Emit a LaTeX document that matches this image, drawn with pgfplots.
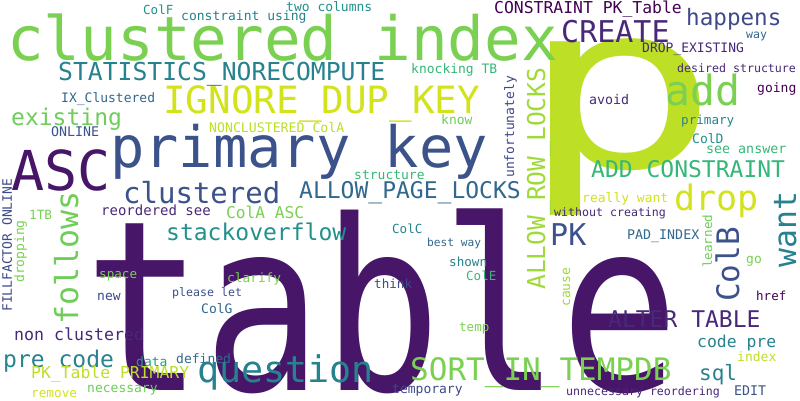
\documentclass[border=0pt]{standalone}
\usepackage{pgfplots}
\pgfplotsset{compat=1.18}
\usepackage{fontspec}
\setmainfont{DejaVu Sans Mono}
\definecolor{v0}{HTML}{440154}
\definecolor{v1}{HTML}{482878}
\definecolor{v1b}{HTML}{471669}
\definecolor{v2}{HTML}{3E4989}
\definecolor{v3}{HTML}{31688E}
\definecolor{v3b}{HTML}{3B528B}
\definecolor{v4}{HTML}{26828E}
\definecolor{v5}{HTML}{21918C}
\definecolor{v6}{HTML}{1F9E89}
\definecolor{v7}{HTML}{35B779}
\definecolor{v8}{HTML}{6ECE58}
\definecolor{v8b}{HTML}{7AD151}
\definecolor{v9}{HTML}{A0DA39}
\definecolor{v10}{HTML}{BDDF26}
\definecolor{v11}{HTML}{D2E21B}
\newcommand\W[7]{\node[anchor=base west,inner sep=0pt,text=#5,rotate=#6] at (axis cs:#1,#2) {\fontsize{#3pt}{#3pt}\selectfont #7};}
\begin{document}
\begin{tikzpicture}
\begin{axis}[width=800pt,height=400pt,scale only axis,xmin=0,xmax=800,ymin=0,ymax=400,y dir=reverse,hide axis,clip=false]
\fill[white] (rel axis cs:0,0) rectangle (rel axis cs:1,1);
\coordinate (A) at (rel axis cs:0,0);
\coordinate (B) at (rel axis cs:1,1);
\node[anchor=base west,inner sep=0pt,text=v1b,xscale=1.04,yscale=1.25] at (axis cs:84,390) {\fontsize{190pt}{190pt}\selectfont table};
\node[anchor=base west,inner sep=0pt,text=v10,xscale=1.45] at (axis cs:519,167) {\fontsize{230pt}{230pt}\selectfont p};
\W{7}{60}{61}{15}{v8b}{0}{clustered index}
\W{110}{167}{57}{11}{v3b}{0}{primary key}
\W{11}{190}{55}{3}{v1b}{0}{ASC}
\W{163}{113}{37.6}{14}{v11}{0}{IGNORE\_DUP\_KEY}
\W{58}{80}{24.7}{22}{v4}{0}{STATISTICS\_NORECOMPUTE}
\W{11}{125}{23}{8}{v8}{0}{existing}
\W{143}{14.5}{12.5}{4}{v5}{0}{ColF}
\W{286}{11}{13}{11}{v5}{0}{two columns}
\W{181}{20}{13}{16}{v4}{0}{constraint using}
\W{61}{102}{13}{12}{v3}{0}{IX\_Clustered}
\W{51}{136}{13.3}{6}{v3b}{0}{ONLINE}
\W{209}{132}{13.2}{17}{v10}{0}{NONCLUSTERED ColA}
\W{192}{131}{13}{1}{v3b}{0}{.}
\W{123}{203}{29}{9}{v3b}{0}{clustered}
\W{299}{198}{23}{16}{v3}{0}{ALLOW\_PAGE\_LOCKS}
\W{354}{179}{13}{9}{v7}{0}{structure}
\W{12}{312}{13}{17}{v2}{90}{FILLFACTOR ONLINE}
\W{494}{13}{16.4}{19}{v0}{0}{CONSTRAINT PK\_Table}
\W{686}{25}{22.6}{7}{v2}{0}{happens}
\W{561}{42}{30}{6}{v1}{0}{CREATE}
\W{746}{38}{11.6}{3}{v3}{0}{way}
\W{642}{52}{13}{13}{v1}{0}{DROP\_EXISTING}
\W{411}{73}{13}{11}{v7}{0}{knocking TB}
\W{677}{72}{11.6}{17}{v1}{0}{desired structure}
\W{665}{105}{41.5}{3}{v8b}{0}{add}
\W{757}{92}{13}{5}{v0}{0}{going}
\W{589}{104}{13.3}{5}{v1}{0}{avoid}
\W{514}{178}{13}{13}{v2}{90}{unfortunately}
\W{545}{290}{24.6}{15}{v9}{90}{ALLOW\_ROW\_LOCKS}
\W{441}{124}{13}{4}{v8}{0}{know}
\W{681}{124}{12.6}{7}{v4}{0}{primary}
\W{692}{143}{13}{4}{v5}{0}{ColD}
\W{706}{153}{13.3}{10}{v7}{0}{see answer}
\W{591}{177}{23}{14}{v7}{0}{ADD CONSTRAINT}
\W{582}{202}{13}{11}{v11}{0}{really want}
\W{674}{210}{35}{4}{v11}{0}{drop}
\W{796}{268}{31.5}{4}{v4}{90}{want}
\W{554}{216}{11.6}{16}{v1}{0}{without creating}
\W{550}{245}{30}{2}{v3b}{0}{PK}
\W{627}{239}{13.3}{9}{v3}{0}{PAD\_INDEX}
\W{712}{268}{12.6}{7}{v8}{90}{learned}
\W{739}{302}{31}{4}{v3b}{90}{ColB}
\W{746}{263}{13}{2}{v8b}{0}{go}
\W{392}{233}{12.5}{4}{v4}{0}{ColC}
\W{427}{246}{11.2}{8}{v3}{0}{best way}
\W{449}{266}{12.6}{5}{v4}{0}{shown}
\W{466}{280}{12.5}{4}{v7}{0}{ColE}
\W{374}{288}{12.6}{5}{v2}{0}{think}
\W{570}{307}{13}{5}{v9}{90}{cause}
\W{756}{300}{12.5}{4}{v0}{0}{href}
\W{608}{327}{23}{11}{v1}{0}{ALTER TABLE}
\W{459}{331}{12.5}{4}{v8b}{0}{temp}
\W{697}{347}{16.4}{8}{v4}{0}{code pre}
\W{737}{361}{13}{5}{v10}{0}{index}
\W{410}{380}{31}{14}{v8b}{0}{SORT\_IN\_TEMPDB}
\W{699}{380}{21}{3}{v4}{0}{sql}
\W{392}{393}{13}{9}{v2}{0}{temporary}
\W{566}{395}{11.6}{22}{v1}{0}{unnecessary reordering}
\W{734}{395}{13.3}{4}{v3b}{0}{EDIT}
\W{24}{283}{13}{8}{v8b}{90}{dropping}
\W{29}{219}{12.7}{3}{v8b}{0}{1TB}
\W{78}{325}{31.6}{7}{v8}{90}{follows}
\W{101}{215}{14}{12}{v1}{0}{reordered see}
\W{226}{218}{16.2}{8}{v8b}{0}{ColA ASC}
\W{166}{240}{23}{13}{v5}{0}{stackoverflow}
\W{99}{278}{12.6}{5}{v8b}{0}{space}
\W{227}{282}{12.8}{7}{v8b}{0}{clarify}
\W{172}{296}{11.6}{10}{v3b}{0}{please let}
\W{97}{300}{13}{3}{v2}{0}{new}
\W{201}{313}{13}{4}{v3}{0}{ColG}
\W{14}{340}{16.6}{13}{v1}{0}{non clustered}
\W{3}{367}{23}{8}{v4}{0}{pre code}
\W{136}{366}{13}{4}{v6}{0}{data}
\W{176}{363}{13}{7}{v3}{0}{defined}
\W{31}{378}{16.4}{16}{v10}{0}{PK\_Table PRIMARY}
\W{197}{382}{36.7}{8}{v4}{0}{question}
\W{87}{392}{13}{9}{v8}{0}{necessary}
\W{31}{397}{12.7}{6}{v11}{0}{remove}
\end{axis}
\pgfresetboundingbox
\path (A) rectangle (B);
\end{tikzpicture}
\end{document}
